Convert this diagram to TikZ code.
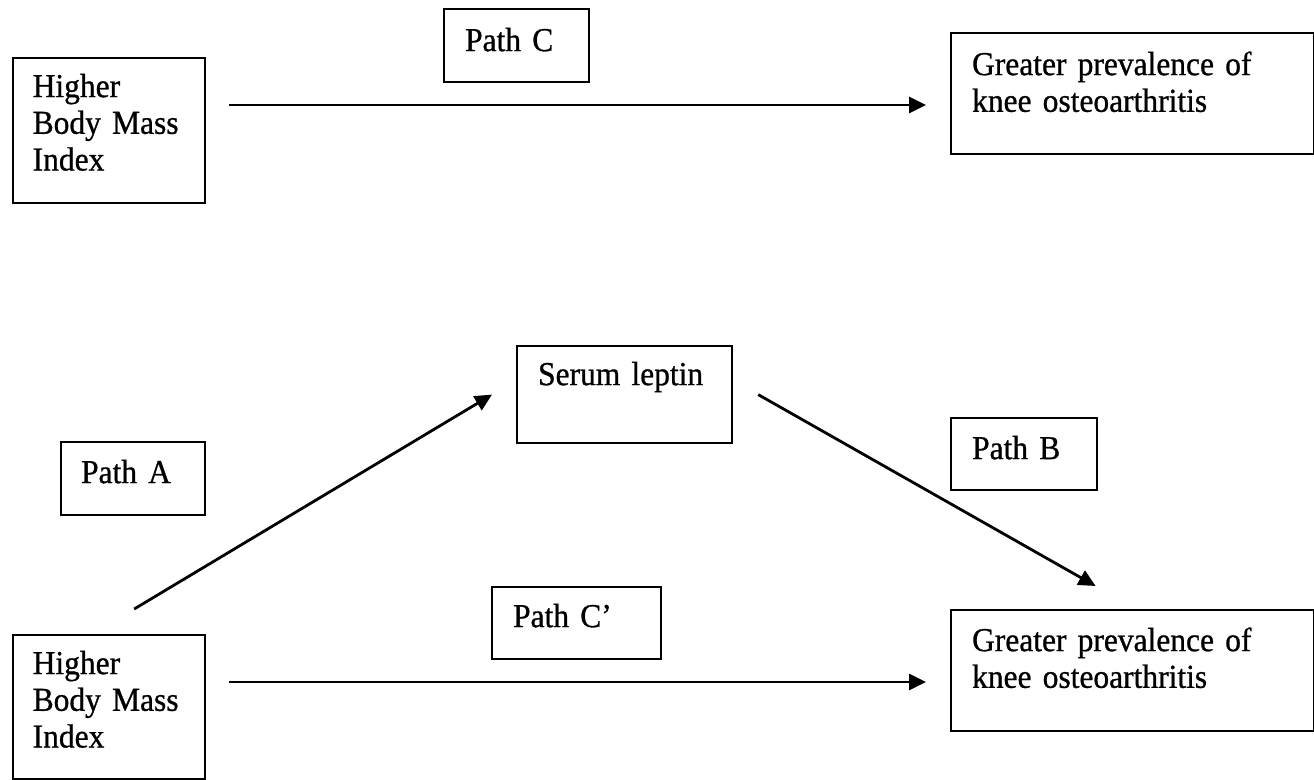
\documentclass[tikz,border=0pt]{standalone}
\usepackage{fontspec}
\setmainfont{Liberation Serif}[FakeStretch=0.94,FakeBold=0.8]
\usetikzlibrary{arrows.meta}
\tikzset{
  box/.style={draw, line width=2.2pt, anchor=north west, inner ysep=0pt, align=left,
    font=\fontsize{33.5}{36.7}\selectfont},
  arr/.style={line width=2.8pt, -{Triangle[length=17pt,width=16pt]}}
}
\begin{document}
\begin{tikzpicture}[x=1pt,y=-1pt]
\useasboundingbox (0,0) rectangle (1314,779);
% top diagram
\node[box, inner xsep=19.6pt, text width=152.8pt, text height=39pt, text depth=106pt] (bmi1) at (12,57) {Higher\\Body Mass\\Index};
\node[box, inner xsep=21pt, text width=103pt, text height=42pt, text depth=31pt] (pathC) at (443,8) {Path C};
\node[box, inner xsep=21pt, text width=321pt, text height=42pt, text depth=79pt] (ko1) at (950,32) {Greater prevalence of\\knee osteoarthritis};
\coordinate (c1s) at ([shift={(23pt,-48pt)}]bmi1.north east);
\coordinate (c1e) at ([xshift=-24pt]c1s -| ko1.west);
\draw[arr] (c1s) -- (c1e);
% bottom diagram
\node[box, inner xsep=21pt, text width=173pt, text height=39pt, text depth=58pt] (lep) at (516,345) {Serum leptin};
\node[box, inner xsep=20pt, text width=104pt, text height=41pt, text depth=32pt] (pathA) at (60,441) {Path A};
\node[box, inner xsep=21pt, text width=104pt, text height=41pt, text depth=31pt] (pathB) at (950,417) {Path B};
\node[box, inner xsep=21pt, text width=127pt, text height=40pt, text depth=32pt] (pathCp) at (491,586) {Path C’};
\node[box, inner xsep=19.6pt, text width=152.8pt, text height=39pt, text depth=105pt] (bmi2) at (12,634) {Higher\\Body Mass\\Index};
\node[box, inner xsep=21pt, text width=321pt, text height=41pt, text depth=80pt] (ko2) at (950,609) {Greater prevalence of\\knee osteoarthritis};
\coordinate (as) at ([shift={(-72pt,25pt)}]bmi2.north east);
\coordinate (ae) at ([xshift=-24pt]lep.west);
\draw[arr] (as) -- (ae);
\coordinate (bs) at ([xshift=25pt]lep.east);
\coordinate (be) at ([shift={(145.6pt,23pt)}]ko2.north west);
\draw[arr] (bs) -- (be);
\coordinate (c2s) at ([shift={(23pt,-48pt)}]bmi2.north east);
\coordinate (c2e) at ([xshift=-24pt]c2s -| ko2.west);
\draw[arr] (c2s) -- (c2e);
\end{tikzpicture}
\end{document}
